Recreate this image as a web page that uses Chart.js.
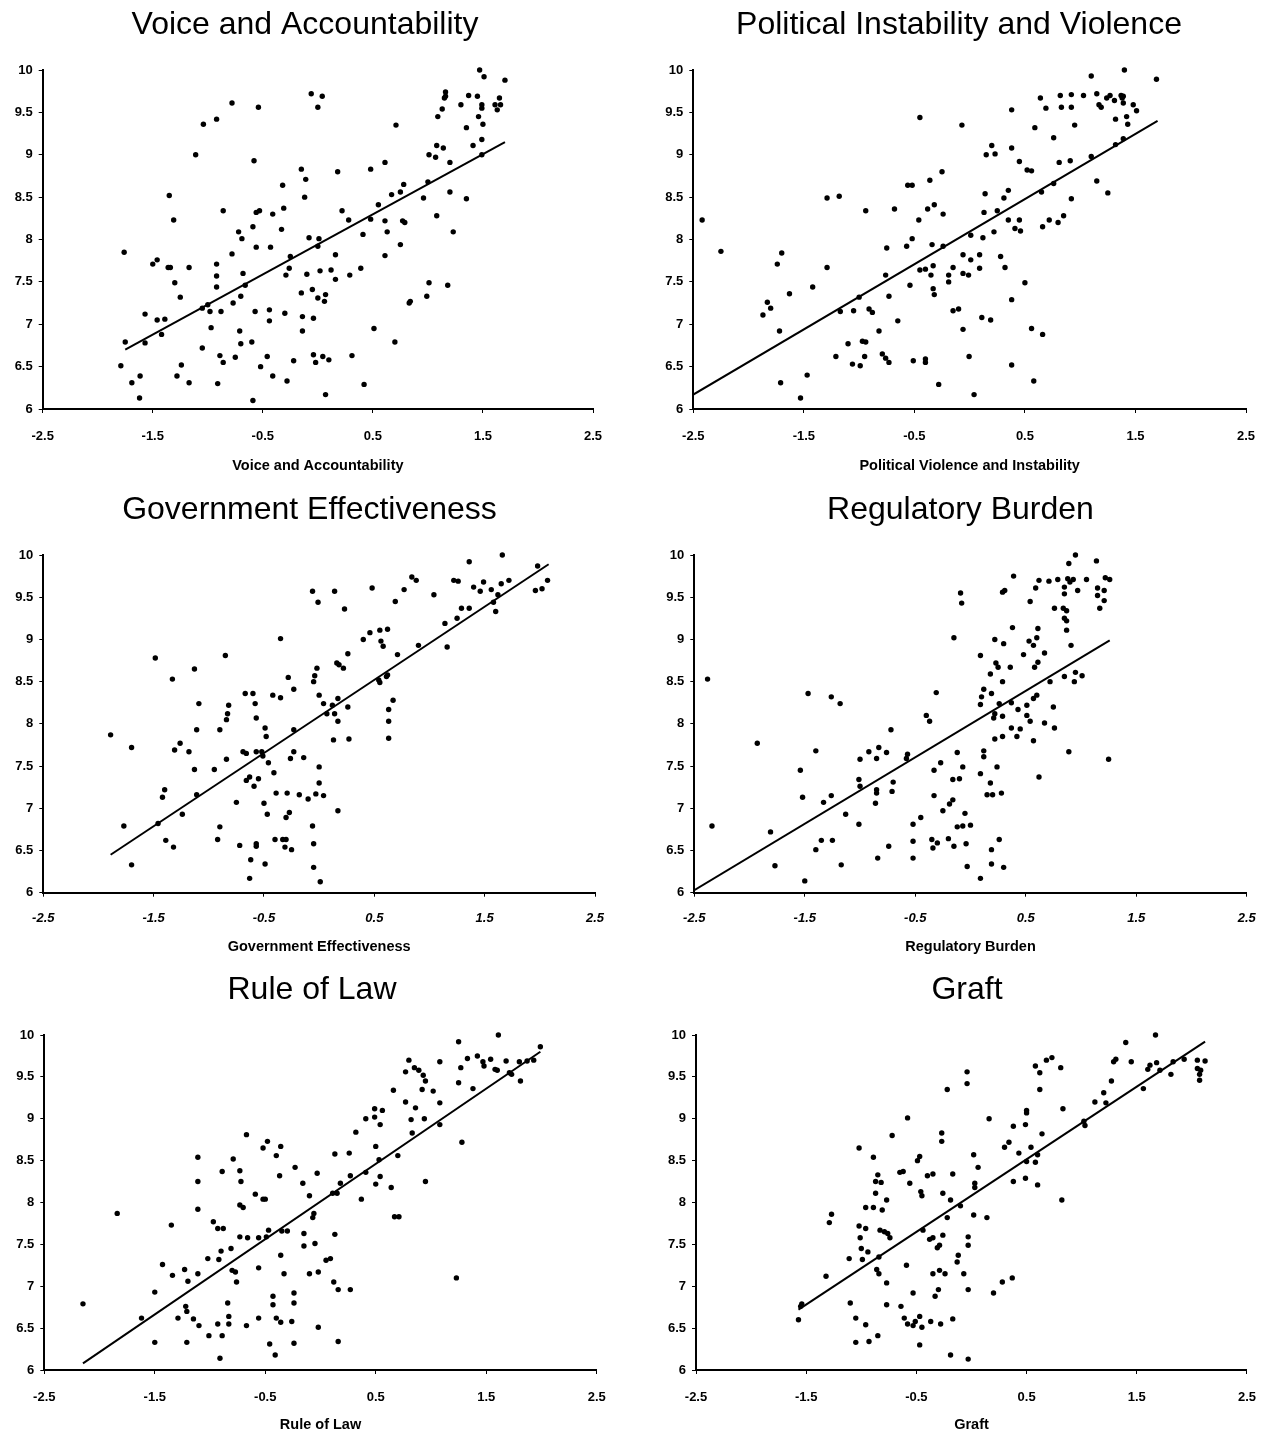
<!DOCTYPE html>
<html>
<head>
<meta charset="utf-8">
<script src="https://cdn.jsdelivr.net/npm/chart.js@4.4.1/dist/chart.umd.min.js"></script>
<style>
  body { margin: 0; background: #fff; width: 1272px; height: 1434px; position: relative; overflow: hidden; }
  canvas { position: absolute; }
</style>
</head>
<body>
<canvas id="c1"></canvas>
<canvas id="c2"></canvas>
<canvas id="c3"></canvas>
<canvas id="c4"></canvas>
<canvas id="c5"></canvas>
<canvas id="c6"></canvas>
<script>
// tick values and labels (shared by all six panels)
const xTicks = [-2.5, -1.5, -0.5, 0.5, 1.5, 2.5];
const xTickLabels = ['-2.5', '-1.5', '-0.5', '0.5', '1.5', '2.5'];
const yTicks = [6, 6.5, 7, 7.5, 8, 8.5, 9, 9.5, 10];
const yTickLabels = ['6', '6.5', '7', '7.5', '8', '8.5', '9', '9.5', '10'];

// panel titles and axis titles
const titles = ['Voice and Accountability', 'Political Instability and Violence', 'Government Effectiveness',
  'Regulatory Burden', 'Rule of Law', 'Graft'];
const axisTitles = ['Voice and Accountability', 'Political Violence and Instability', 'Government Effectiveness',
  'Regulatory Burden', 'Rule of Law', 'Graft'];

// scatter points: [index, score]
const voicePts = [[-1.79,6.51],[-1.75,6.79],[-1.76,7.85],[-1.69,6.31],[-1.615,6.39],[-1.62,6.13],[-1.57,7.12],[-1.57,6.78],[-1.50,7.71],[-1.46,7.76],[-1.46,7.05],[-1.39,7.06],[-1.42,6.88],[-1.36,7.67],[-1.34,7.67],[-1.35,8.52],[-1.31,8.23],[-1.30,7.49],[-1.25,7.32],[-1.24,6.52],[-1.28,6.39],[-1.17,6.31],[-1.17,7.67],[-1.11,9.00],[-1.04,9.36],[-1.05,6.72],[-0.97,6.96],[-1.05,7.19],[-1.00,7.23],[-0.98,7.15],[-0.92,9.42],[-0.92,7.71],[-0.92,7.57],[-0.92,7.44],[-0.88,7.15],[-0.89,6.63],[-0.86,6.55],[-0.91,6.30],[-0.86,8.34],[-0.78,9.61],[-0.78,7.83],[-0.77,7.25],[-0.75,6.61],[-0.72,8.09],[-0.69,8.01],[-0.71,6.92],[-0.70,6.77],[-0.70,7.33],[-0.68,7.60],[-0.66,7.46],[-0.60,6.79],[-0.59,6.10],[-0.59,8.15],[-0.58,8.93],[-0.56,7.91],[-0.57,7.15],[-0.54,9.56],[-0.56,8.32],[-0.53,8.34],[-0.52,6.50],[-0.46,6.62],[-0.44,7.17],[-0.44,7.04],[-0.43,7.91],[-0.41,8.30],[-0.41,6.39],[-0.33,8.12],[-0.32,8.64],[-0.31,8.37],[-0.30,7.13],[-0.29,7.58],[-0.25,7.80],[-0.26,7.66],[-0.22,6.57],[-0.28,6.33],[-0.15,8.83],[-0.11,8.71],[-0.12,8.50],[-0.15,7.37],[-0.14,7.09],[-0.14,6.92],[-0.10,7.59],[-0.08,8.02],[-0.06,9.72],[-0.05,7.41],[-0.04,7.07],[-0.04,6.64],[-0.02,6.55],[0.00,9.56],[0.01,8.01],[0.00,7.92],[0.04,9.69],[0.02,7.63],[0.00,7.31],[0.07,7.35],[0.06,7.27],[0.045,6.62],[0.10,6.58],[0.07,6.17],[0.12,7.64],[0.16,7.82],[0.16,7.53],[0.18,8.80],[0.22,8.34],[0.28,8.23],[0.29,7.58],[0.39,7.66],[0.41,8.06],[0.31,6.63],[0.42,6.29],[0.48,8.83],[0.48,8.24],[0.55,8.41],[0.51,6.95],[0.61,8.91],[0.61,8.22],[0.63,8.09],[0.61,7.81],[0.71,9.35],[0.67,8.53],[0.75,8.56],[0.78,8.65],[0.77,8.22],[0.79,8.20],[0.75,7.94],[0.70,6.79],[0.84,7.27],[0.83,7.25],[0.96,8.49],[1.00,8.68],[1.01,9.00],[1.07,8.97],[1.08,8.28],[1.01,7.49],[0.99,7.33],[1.09,9.45],[1.13,9.54],[1.08,9.11],[1.14,9.08],[1.16,9.69],[1.16,9.74],[1.15,9.67],[1.20,8.91],[1.20,8.56],[1.23,8.09],[1.18,7.46],[1.30,9.59],[1.37,9.70],[1.35,9.32],[1.35,8.48],[1.41,9.11],[1.45,9.69],[1.46,9.45],[1.49,9.59],[1.49,9.55],[1.50,9.36],[1.49,9.18],[1.49,9.00],[1.47,10.0],[1.51,9.92],[1.61,9.59],[1.63,9.53],[1.65,9.67],[1.66,9.59],[1.70,9.88]];

const violencePts = [[-2.42,8.23],[-2.25,7.86],[-1.87,7.11],[-1.83,7.26],[-1.80,7.19],[-1.74,7.71],[-1.70,7.84],[-1.72,6.92],[-1.71,6.31],[-1.63,7.36],[-1.47,6.40],[-1.53,6.13],[-1.42,7.44],[-1.29,8.49],[-1.18,8.51],[-1.29,7.67],[-1.17,7.15],[-1.21,6.62],[-1.10,6.77],[-1.06,6.53],[-1.05,7.16],[-0.99,6.51],[-1.00,7.32],[-0.97,6.80],[-0.94,6.79],[-0.95,6.62],[-0.94,8.34],[-0.91,7.18],[-0.88,7.14],[-0.82,6.92],[-0.79,6.65],[-0.76,6.60],[-0.73,6.55],[-0.76,7.58],[-0.75,7.90],[-0.73,7.33],[-0.68,8.36],[-0.65,7.04],[-0.57,7.92],[-0.52,8.01],[-0.56,8.64],[-0.52,8.64],[-0.45,9.44],[-0.46,8.23],[-0.54,7.46],[-0.45,7.64],[-0.51,6.57],[-0.40,6.59],[-0.40,6.55],[-0.36,8.70],[-0.38,8.36],[-0.32,8.41],[-0.34,7.94],[-0.40,7.65],[-0.33,7.69],[-0.35,7.58],[-0.33,7.42],[-0.32,7.35],[-0.25,8.80],[-0.24,8.30],[-0.24,7.92],[-0.28,6.29],[-0.19,7.58],[-0.19,7.50],[-0.15,7.67],[-0.15,7.16],[-0.10,7.18],[-0.07,9.35],[-0.06,7.82],[-0.06,7.60],[-0.06,6.94],[-0.01,7.58],[-0.005,6.62],[0.01,7.76],[0.01,8.05],[0.09,7.82],[0.09,7.66],[0.12,8.02],[0.04,6.17],[0.11,7.08],[0.19,7.05],[0.14,8.54],[0.13,8.32],[0.15,9.00],[0.20,9.11],[0.23,9.01],[0.25,8.34],[0.22,8.09],[0.28,7.80],[0.32,7.67],[0.31,8.49],[0.35,8.58],[0.35,8.23],[0.41,8.13],[0.45,8.23],[0.46,8.10],[0.38,9.53],[0.38,9.08],[0.38,7.29],[0.38,6.52],[0.45,8.92],[0.52,8.82],[0.56,8.81],[0.50,7.49],[0.56,6.95],[0.58,6.33],[0.59,9.32],[0.65,8.56],[0.66,6.88],[0.64,9.67],[0.69,9.55],[0.66,8.15],[0.72,8.23],[0.80,8.20],[0.85,8.28],[0.76,8.66],[0.76,9.20],[0.81,8.91],[0.91,8.93],[0.82,9.70],[0.83,9.56],[0.92,9.71],[0.92,9.56],[0.95,9.35],[0.92,8.48],[1.03,9.70],[1.10,8.98],[1.10,9.93],[1.15,8.69],[1.15,9.72],[1.17,9.59],[1.19,9.56],[1.24,9.67],[1.27,9.70],[1.31,9.64],[1.25,8.55],[1.32,9.42],[1.32,9.12],[1.37,9.70],[1.38,9.67],[1.39,9.69],[1.39,9.61],[1.40,10.0],[1.42,9.45],[1.43,9.36],[1.39,9.19],[1.48,9.59],[1.51,9.52],[1.69,9.89]];

const govPts = [[-1.89,7.87],[-1.77,6.79],[-1.70,7.72],[-1.70,6.33],[-1.485,8.78],[-1.46,6.82],[-1.42,7.13],[-1.40,7.22],[-1.39,6.62],[-1.33,8.53],[-1.32,6.54],[-1.31,7.69],[-1.26,7.77],[-1.24,6.93],[-1.18,7.67],[-1.13,8.65],[-1.13,7.46],[-1.11,7.93],[-1.09,8.24],[-1.11,7.16],[-0.95,7.46],[-0.92,6.63],[-0.90,6.78],[-0.90,7.93],[-0.85,8.81],[-0.84,8.05],[-0.83,8.12],[-0.82,8.22],[-0.84,7.58],[-0.75,7.07],[-0.72,6.56],[-0.69,7.67],[-0.66,7.65],[-0.67,8.36],[-0.60,8.36],[-0.66,7.33],[-0.63,7.37],[-0.62,6.39],[-0.63,6.17],[-0.59,7.26],[-0.58,8.24],[-0.57,8.07],[-0.57,6.58],[-0.57,6.55],[-0.55,7.35],[-0.57,7.67],[-0.52,7.67],[-0.51,7.62],[-0.49,7.95],[-0.48,7.85],[-0.50,7.06],[-0.49,6.34],[-0.47,6.93],[-0.46,7.54],[-0.42,8.34],[-0.41,7.42],[-0.39,7.18],[-0.40,6.63],[-0.35,9.01],[-0.35,8.31],[-0.33,6.63],[-0.30,6.63],[-0.31,6.54],[-0.30,6.89],[-0.28,8.55],[-0.29,7.18],[-0.26,7.59],[-0.27,6.95],[-0.25,6.51],[-0.23,8.41],[-0.23,7.93],[-0.23,7.67],[-0.18,7.16],[-0.14,7.60],[-0.10,7.11],[-0.06,9.57],[-0.06,6.79],[-0.05,6.58],[-0.05,6.30],[-0.04,8.57],[-0.05,8.50],[-0.02,8.66],[-0.03,7.17],[-0.01,9.44],[0.00,8.34],[0.00,7.49],[0.00,7.30],[0.01,6.13],[0.14,9.57],[0.23,9.36],[0.04,8.24],[0.07,8.12],[0.12,8.22],[0.14,8.12],[0.17,8.30],[0.17,8.03],[0.26,8.20],[0.13,7.81],[0.27,7.82],[0.16,8.72],[0.18,8.70],[0.22,8.66],[0.26,8.83],[0.04,7.15],[0.17,6.97],[0.40,9.00],[0.46,9.08],[0.48,9.61],[0.55,9.11],[0.56,8.98],[0.58,8.92],[0.62,9.12],[0.54,8.52],[0.55,8.49],[0.61,8.56],[0.62,8.58],[0.63,8.17],[0.67,8.28],[0.63,8.03],[0.63,7.83],[0.69,9.45],[0.77,9.59],[0.71,8.82],[0.84,9.74],[0.88,9.70],[0.90,8.93],[1.04,9.53],[1.14,9.19],[1.16,8.91],[1.22,9.70],[1.26,9.69],[1.25,9.25],[1.29,9.37],[1.36,9.37],[1.36,9.92],[1.40,9.62],[1.46,9.57],[1.49,9.68],[1.56,9.59],[1.58,9.44],[1.60,9.33],[1.62,9.53],[1.66,10.0],[1.65,9.66],[1.72,9.70],[1.96,9.58],[1.98,9.87],[2.02,9.60],[2.07,9.70]];

const regPts = [[-2.38,8.53],[-2.34,6.79],[-1.93,7.77],[-1.81,6.72],[-1.77,6.32],[-1.54,7.45],[-1.52,7.13],[-1.50,6.14],[-1.47,8.36],[-1.40,7.68],[-1.40,6.51],[-1.35,6.62],[-1.33,7.07],[-1.26,8.32],[-1.26,7.15],[-1.25,6.62],[-1.18,8.24],[-1.17,6.33],[-1.13,6.93],[-1.01,7.34],[-1.00,7.58],[-1.00,7.26],[-1.01,6.81],[-0.92,7.67],[-0.86,7.06],[-0.85,7.22],[-0.85,7.18],[-0.85,7.59],[-0.83,7.72],[-0.84,6.41],[-0.76,7.66],[-0.74,6.55],[-0.72,7.93],[-0.70,7.31],[-0.71,7.20],[-0.57,7.64],[-0.58,7.59],[-0.52,6.81],[-0.52,6.61],[-0.52,6.41],[-0.45,6.89],[-0.40,8.10],[-0.37,8.03],[-0.33,7.45],[-0.33,7.15],[-0.35,6.63],[-0.34,6.53],[-0.31,8.37],[-0.30,6.59],[-0.27,7.54],[-0.25,6.97],[-0.20,6.64],[-0.19,7.05],[-0.16,7.34],[-0.16,7.10],[-0.15,9.02],[-0.15,6.55],[-0.12,7.66],[-0.12,6.78],[-0.10,7.35],[-0.09,9.55],[-0.08,9.43],[-0.07,7.49],[-0.07,6.79],[-0.05,6.94],[-0.04,6.58],[-0.03,6.31],[0.00,6.80],[0.09,8.81],[0.18,8.59],[0.12,8.41],[0.10,8.32],[0.09,8.23],[0.19,8.36],[0.22,9.00],[0.23,8.72],[0.25,8.67],[0.30,8.95],[0.29,8.50],[0.26,8.24],[0.22,8.12],[0.21,8.07],[0.29,8.09],[0.22,7.82],[0.29,7.85],[0.12,7.68],[0.12,7.61],[0.24,7.49],[0.09,7.41],[0.18,7.30],[0.15,7.16],[0.20,7.16],[0.28,7.18],[0.19,6.51],[0.26,6.63],[0.19,6.34],[0.30,6.30],[0.09,6.17],[0.29,9.56],[0.31,9.58],[0.39,9.75],[0.36,8.67],[0.38,9.14],[0.37,8.25],[0.43,8.17],[0.37,7.95],[0.45,7.94],[0.42,7.85],[0.48,8.82],[0.54,9.45],[0.53,8.98],[0.57,8.93],[0.51,8.22],[0.51,8.10],[0.54,8.03],[0.57,7.80],[0.58,8.67],[0.61,8.73],[0.57,8.30],[0.60,8.34],[0.60,9.02],[0.61,9.13],[0.59,9.61],[0.62,9.70],[0.62,7.37],[0.67,8.84],[0.67,8.01],[0.71,9.69],[0.72,8.50],[0.75,8.20],[0.76,7.95],[0.76,9.37],[0.79,9.71],[0.84,9.37],[0.87,9.34],[0.85,9.25],[0.87,9.22],[0.87,9.11],[0.85,8.56],[0.89,9.90],[0.88,9.72],[0.90,9.68],[0.85,9.62],[0.85,9.54],[0.93,9.71],[0.97,9.58],[0.91,8.93],[0.89,7.67],[0.95,10.0],[0.94,8.50],[0.95,8.61],[1.01,8.57],[1.05,9.71],[1.14,9.93],[1.15,9.61],[1.15,9.52],[1.17,9.37],[1.21,9.58],[1.21,9.46],[1.22,9.73],[1.26,9.71],[1.25,7.58]];

const lawPts = [[-2.15,6.79],[-1.84,7.87],[-1.62,6.62],[-1.50,6.93],[-1.50,6.33],[-1.43,7.26],[-1.35,7.73],[-1.34,7.13],[-1.29,6.62],[-1.23,7.20],[-1.22,6.76],[-1.21,6.70],[-1.20,7.06],[-1.21,6.33],[-1.15,6.61],[-1.11,8.54],[-1.11,8.25],[-1.11,7.92],[-1.11,7.15],[-1.10,6.53],[-1.02,7.33],[-1.01,6.41],[-0.97,7.77],[-0.93,7.69],[-0.88,7.69],[-0.92,7.32],[-0.90,7.42],[-0.93,6.55],[-0.91,6.14],[-0.89,8.37],[-0.89,6.41],[-0.84,6.80],[-0.83,6.64],[-0.83,6.55],[-0.81,7.45],[-0.80,7.19],[-0.79,8.52],[-0.77,7.17],[-0.76,7.05],[-0.73,7.59],[-0.73,8.38],[-0.72,8.25],[-0.73,7.97],[-0.70,7.94],[-0.67,8.81],[-0.66,7.58],[-0.67,6.53],[-0.59,8.10],[-0.56,6.62],[-0.56,7.22],[-0.56,7.58],[-0.52,8.04],[-0.50,8.04],[-0.52,8.65],[-0.48,8.73],[-0.49,7.59],[-0.47,7.67],[-0.46,6.31],[-0.43,6.88],[-0.43,6.78],[-0.41,6.18],[-0.40,6.62],[-0.40,8.56],[-0.36,8.67],[-0.37,8.32],[-0.36,7.37],[-0.36,6.57],[-0.33,7.15],[-0.35,7.66],[-0.30,7.66],[-0.26,6.58],[-0.24,6.92],[-0.24,6.80],[-0.24,6.32],[-0.23,8.42],[-0.16,8.23],[-0.15,7.63],[-0.15,7.48],[-0.10,8.08],[-0.10,7.15],[-0.07,7.82],[-0.05,7.51],[-0.03,8.35],[-0.02,6.51],[-0.02,7.17],[-0.06,7.87],[0.05,7.31],[0.09,7.33],[0.12,7.05],[0.13,7.62],[0.13,8.58],[0.11,8.11],[0.15,8.11],[0.18,8.23],[0.16,6.96],[0.27,6.96],[0.16,6.34],[0.26,8.59],[0.27,8.32],[0.32,8.84],[0.37,8.04],[0.41,8.36],[0.41,9.00],[0.49,9.02],[0.49,9.12],[0.56,9.10],[0.54,8.93],[0.50,8.67],[0.53,8.51],[0.54,8.31],[0.50,8.22],[0.64,8.18],[0.66,9.34],[0.70,8.56],[0.67,7.83],[0.71,7.83],[0.77,9.20],[0.77,9.56],[0.80,9.70],[0.82,8.99],[0.83,8.83],[0.86,9.13],[0.85,9.61],[0.89,9.58],[0.93,9.52],[0.95,9.45],[0.92,9.35],[0.94,9.00],[0.95,8.25],[1.02,9.33],[1.08,9.68],[1.08,9.19],[1.08,8.93],[1.23,7.10],[1.25,9.92],[1.25,9.43],[1.27,9.61],[1.28,8.72],[1.33,9.72],[1.38,9.36],[1.42,9.75],[1.47,9.68],[1.48,9.63],[1.54,9.71],[1.58,9.59],[1.60,9.58],[1.61,10.0],[1.68,9.69],[1.71,9.55],[1.73,9.53],[1.80,9.68],[1.81,9.45],[1.87,9.69],[1.93,9.70],[1.99,9.86]];

const graftPts = [[-1.57,6.60],[-1.55,6.76],[-1.54,6.79],[-1.32,7.12],[-1.29,7.76],[-1.27,7.86],[-1.11,7.33],[-1.10,6.80],[-1.05,6.62],[-1.05,6.33],[-1.02,8.65],[-1.02,7.72],[-1.01,7.58],[-1.00,7.45],[-0.99,7.32],[-0.96,7.69],[-0.96,7.94],[-0.96,6.54],[-0.94,7.41],[-0.93,6.34],[-0.89,7.94],[-0.89,8.54],[-0.87,8.11],[-0.87,8.25],[-0.85,8.33],[-0.84,7.35],[-0.86,7.20],[-0.84,7.15],[-0.85,6.41],[-0.83,7.67],[-0.82,8.24],[-0.81,7.91],[-0.79,7.65],[-0.77,8.03],[-0.77,6.78],[-0.77,7.04],[-0.76,7.63],[-0.74,7.58],[-0.72,8.80],[-0.65,8.36],[-0.64,6.76],[-0.62,8.37],[-0.61,6.62],[-0.59,7.25],[-0.58,6.55],[-0.58,9.01],[-0.56,8.23],[-0.53,6.53],[-0.53,6.92],[-0.51,6.58],[-0.49,8.50],[-0.47,8.55],[-0.46,8.13],[-0.45,8.08],[-0.47,6.30],[-0.47,6.64],[-0.45,6.51],[-0.44,7.67],[-0.40,8.32],[-0.38,7.56],[-0.37,6.58],[-0.35,7.58],[-0.35,8.34],[-0.35,7.15],[-0.33,6.88],[-0.31,7.46],[-0.29,7.49],[-0.30,6.96],[-0.29,7.19],[-0.28,6.55],[-0.27,8.83],[-0.27,8.73],[-0.26,8.11],[-0.26,7.61],[-0.24,7.15],[-0.22,7.82],[-0.22,9.35],[-0.19,6.18],[-0.19,8.03],[-0.17,8.34],[-0.17,6.61],[-0.13,7.29],[-0.12,7.37],[-0.10,7.96],[-0.07,7.15],[-0.04,9.56],[-0.04,9.42],[-0.03,7.59],[-0.03,7.49],[-0.03,6.96],[-0.03,6.13],[0.02,8.57],[0.06,8.42],[0.03,8.23],[0.03,8.18],[0.02,7.85],[0.14,7.82],[0.16,9.00],[0.20,6.92],[0.28,7.05],[0.37,7.10],[0.30,8.66],[0.34,8.72],[0.38,8.91],[0.38,8.25],[0.43,8.59],[0.49,8.93],[0.50,9.10],[0.50,9.07],[0.50,8.49],[0.49,8.29],[0.54,8.66],[0.58,8.48],[0.60,8.57],[0.60,8.21],[0.58,9.63],[0.62,9.55],[0.62,9.35],[0.64,8.82],[0.68,9.70],[0.73,9.73],[0.81,9.61],[0.82,8.03],[0.83,9.12],[1.02,8.97],[1.03,8.92],[1.12,9.20],[1.20,9.31],[1.22,9.19],[1.27,9.45],[1.29,9.68],[1.31,9.71],[1.40,9.91],[1.45,9.68],[1.56,9.36],[1.60,9.59],[1.62,9.64],[1.67,10.0],[1.68,9.67],[1.71,9.58],[1.81,9.53],[1.83,9.68],[1.93,9.71],[2.05,9.70],[2.05,9.60],[2.08,9.58],[2.07,9.53],[2.07,9.46],[2.12,9.69]];

// fitted line end points: [x start, x end] and [y start, y end]
const voiceTrendX = [-1.75, 1.70], voiceTrendY = [6.70, 9.15];
const violenceTrendX = [-2.50, 1.70], violenceTrendY = [6.17, 9.40];
const govTrendX = [-1.89, 2.08], govTrendY = [6.45, 9.89];
const regTrendX = [-2.50, 1.26], regTrendY = [6.03, 8.99];
const lawTrendX = [-2.15, 1.99], lawTrendY = [6.08, 9.80];
const graftTrendX = [-1.57, 2.12], graftTrendY = [6.72, 9.92];

const series = [
  [voicePts, voiceTrendX, voiceTrendY],
  [violencePts, violenceTrendX, violenceTrendY],
  [govPts, govTrendX, govTrendY],
  [regPts, regTrendX, regTrendY],
  [lawPts, lawTrendX, lawTrendY],
  [graftPts, graftTrendX, graftTrendY],
];

// page layout: canvas box, plot rectangle (canvas coords), title centre
const layout = [
  { left: 0,   top: 0,   w: 636, h: 478, pl: 42.7, pr: 593,   pt: 70, pb: 409,   tx: 305,   ty: 25, tickPad: 16,   atPad: 2.9, italic: false },
  { left: 636, top: 0,   w: 636, h: 478, pl: 57.3, pr: 610,   pt: 70, pb: 409,   tx: 323,   ty: 25, tickPad: 16,   atPad: 2.9, italic: false },
  { left: 0,   top: 478, w: 636, h: 480, pl: 43.3, pr: 595,   pt: 77, pb: 414.7, tx: 309.5, ty: 32, tickPad: 13.5, atPad: 2.6, italic: true },
  { left: 636, top: 478, w: 636, h: 480, pl: 58.3, pr: 610.7, pt: 77, pb: 414.7, tx: 324.5, ty: 32, tickPad: 13.5, atPad: 2.6, italic: true },
  { left: 0,   top: 958, w: 636, h: 476, pl: 44.3, pr: 596.7, pt: 77, pb: 412,   tx: 312,   ty: 32, tickPad: 16,   atPad: 0,   italic: false },
  { left: 636, top: 958, w: 636, h: 476, pl: 60,   pr: 612.3, pt: 77, pb: 412,   tx: 331,   ty: 32, tickPad: 16,   atPad: 0,   italic: false },
];

const FONT = "'Liberation Sans', Arial, sans-serif";

// panel heading drawn at a fixed spot above the plot
const panelTitle = {
  id: 'panelTitle',
  afterDraw(chart, args, opts) {
    const ctx = chart.ctx;
    ctx.save();
    ctx.fillStyle = '#000';
    ctx.font = '32px ' + FONT;
    ctx.textAlign = 'center';
    ctx.textBaseline = 'middle';
    ctx.fillText(opts.text, opts.x, opts.y);
    ctx.restore();
  },
};

function makePanel(i) {
  const L = layout[i];
  const [pts, tx, ty] = series[i];
  const canvas = document.getElementById('c' + (i + 1));
  canvas.width = L.w;
  canvas.height = L.h;
  canvas.style.left = L.left + 'px';
  canvas.style.top = L.top + 'px';

  new Chart(canvas, {
    type: 'scatter',
    data: {
      datasets: [
        {
          data: pts.map(p => ({ x: p[0], y: p[1] })),
          pointRadius: 2.7,
          pointHoverRadius: 2.7,
          pointBackgroundColor: '#000',
          pointBorderWidth: 0,
          clip: false,
        },
        {
          data: tx.map((x, k) => ({ x: x, y: ty[k] })),
          showLine: true,
          borderColor: '#000',
          borderWidth: 2,
          pointRadius: 0,
        },
      ],
    },
    plugins: [panelTitle],
    options: {
      responsive: false,
      animation: false,
      events: [],
      layout: { padding: { left: 0, right: L.w - L.pr, top: L.pt, bottom: 0 } },
      plugins: {
        legend: { display: false },
        tooltip: { enabled: false },
        title: { display: false },
        panelTitle: { text: titles[i], x: L.tx, y: L.ty },
      },
      scales: {
        x: {
          type: 'linear',
          min: -2.5,
          max: 2.5,
          afterBuildTicks: s => { s.ticks = xTicks.map(v => ({ value: v })); },
          afterFit: s => { s.height = L.h - L.pb; },
          ticks: {
            callback: (v, k) => xTickLabels[k],
            color: '#000',
            padding: L.tickPad,
            maxRotation: 0,
            font: { family: FONT, size: 13, weight: 'bold', style: L.italic ? 'italic' : 'normal', lineHeight: 1.2 },
          },
          grid: { drawOnChartArea: false, tickLength: 4, color: '#000', lineWidth: 1 },
          border: { color: '#000', width: 2 },
          title: {
            display: true,
            text: axisTitles[i],
            color: '#000',
            font: { family: FONT, size: 14.5, weight: 'bold', lineHeight: 1.2 },
            padding: { top: 0, bottom: L.atPad },
          },
        },
        y: {
          type: 'linear',
          min: 6,
          max: 10,
          afterBuildTicks: s => { s.ticks = yTicks.map(v => ({ value: v })); },
          afterFit: s => { s.width = L.pl; },
          ticks: {
            callback: (v, k) => yTickLabels[k],
            color: '#000',
            padding: 6,
            font: { family: FONT, size: 13, weight: 'bold' },
          },
          grid: { drawOnChartArea: false, tickLength: 4, color: '#000', lineWidth: 1 },
          border: { color: '#000', width: 2 },
        },
      },
    },
  });
}

for (let i = 0; i < 6; i++) makePanel(i);
</script>
</body>
</html>
